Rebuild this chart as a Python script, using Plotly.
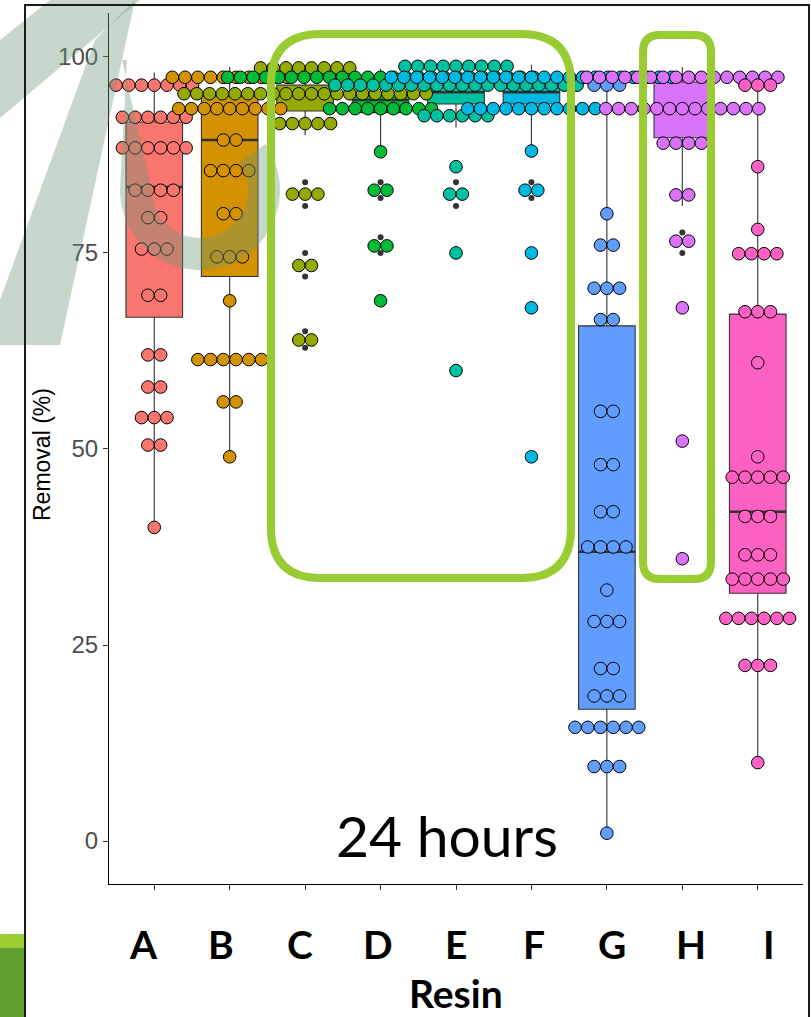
import numpy as np
import plotly.graph_objects as go

# ---------------- data ----------------
CATEGORIES = ["A", "B", "C", "D", "E", "F", "G", "H", "I"]
COLORS = ["#F8766D", "#D39200", "#93AA00", "#00BA38", "#00C19F",
          "#00B9E3", "#619CFF", "#DB72FB", "#FF61C3"]

# dot-plot bins (Removal %) and number of stacked dots in each bin
A_bins = [96.4, 92.3, 88.4, 83.0, 79.5, 75.5, 69.6, 62.0, 57.9, 54.0, 50.5, 40.0]
A_counts = [7, 6, 6, 4, 2, 3, 2, 2, 2, 3, 2, 1]
B_bins = [97.4, 93.4, 89.4, 85.5, 80.0, 74.5, 68.9, 61.4, 56.0, 49.0]
B_counts = [10, 9, 2, 4, 2, 3, 1, 6, 2, 1]
C_bins = [98.6, 95.3, 91.5, 82.5, 73.4, 63.9]
C_counts = [8, 20, 5, 3, 2, 2]
D_bins = [97.4, 93.4, 87.9, 83.0, 75.9, 68.9]
D_counts = [25, 9, 1, 2, 2, 1]
E_bins = [98.8, 96.4, 92.5, 86.0, 82.5, 75.0, 60.0]
E_counts = [9, 20, 6, 1, 2, 1, 1]
F_bins = [97.4, 93.4, 88.0, 83.0, 75.0, 68.0, 49.0]
F_counts = [23, 11, 1, 2, 1, 1, 1]
G_bins = [96.4, 80.0, 76.0, 70.5, 66.5, 54.8, 48.0, 42.0, 37.5, 32.0, 28.0, 22.0, 18.5, 14.5, 9.5, 1.0]
G_counts = [3, 1, 2, 3, 2, 2, 2, 2, 4, 1, 3, 2, 3, 6, 3, 1]
H_bins = [97.4, 93.4, 89.0, 82.4, 76.5, 68.0, 51.0, 36.0]
H_counts = [16, 13, 4, 2, 2, 1, 1, 1]
I_bins = [96.4, 86.0, 78.0, 74.9, 67.5, 61.0, 49.0, 46.4, 41.4, 36.5, 33.4, 28.4, 22.4, 10.0]
I_counts = [3, 1, 1, 4, 3, 1, 1, 5, 3, 3, 5, 6, 3, 1]

# box-plot statistics
Q1 = [66.8, 72.0, 93.1, 92.9, 94.0, 94.0, 16.8, 89.7, 31.6]
MEDIAN = [83.4, 89.4, 95.3, 94.5, 95.5, 95.5, 36.9, 93.4, 42.0]
Q3 = [91.7, 95.0, 96.4, 95.3, 96.3, 96.0, 65.7, 96.8, 67.2]
LOWER = [40.0, 49.0, 90.0, 88.0, 91.0, 88.0, 1.0, 81.0, 10.0]
UPPER = [98.0, 98.7, 98.6, 98.5, 98.8, 99.0, 97.4, 98.7, 97.0]

# box-plot outliers
OUTLIERS = {
    "C": [84.0, 81.0, 75.0, 72.0, 65.0, 62.9],
    "D": [84.0, 82.0, 77.0, 75.0],
    "E": [86.0, 84.0, 81.0, 75.0, 60.0],
    "F": [84.0, 82.0, 75.0, 68.0, 49.0],
    "H": [77.6, 75.0, 68.0, 51.0, 36.0],
}

Y_TICKS = [0, 25, 50, 75, 100]

BINS = [A_bins, B_bins, C_bins, D_bins, E_bins, F_bins, G_bins, H_bins, I_bins]
COUNTS = [A_counts, B_counts, C_counts, D_counts, E_counts, F_counts, G_counts, H_counts, I_counts]

# ---------------- layout constants ----------------
W, H = 811, 1017
ML, MR, MT, MB = 109, 8, 13, 133
PW, PH = W - ML - MR, H - MT - MB
DOT_STEP = 0.169      # horizontal stacking step of dots (category units)
BOX_WIDTH = 0.75


def pp(px, py):
    """pixel -> paper coordinates (for decorations)"""
    return (px - ML) / PW, (H - MB - py) / PH


fig = go.Figure()

# boxes
for i, c in enumerate(CATEGORIES):
    fig.add_trace(go.Box(
        x=[i + 1], q1=[Q1[i]], median=[MEDIAN[i]], q3=[Q3[i]],
        lowerfence=[LOWER[i]], upperfence=[UPPER[i]],
        width=BOX_WIDTH, whiskerwidth=0, boxpoints=False,
        fillcolor=COLORS[i], line=dict(color="#333333", width=1.1),
        showlegend=False, hoverinfo="skip"))

# thicker median lines
for i, c in enumerate(CATEGORIES):
    fig.add_trace(go.Scatter(
        x=[i + 1 - BOX_WIDTH / 2, i + 1 + BOX_WIDTH / 2], y=[MEDIAN[i], MEDIAN[i]],
        mode="lines", line=dict(color="#333333", width=2.4),
        showlegend=False, hoverinfo="skip"))

# outliers
for c, vals in OUTLIERS.items():
    i = CATEGORIES.index(c)
    fig.add_trace(go.Scatter(
        x=[i + 1] * len(vals), y=vals, mode="markers",
        marker=dict(color="#333333", size=6),
        showlegend=False, hoverinfo="skip"))

# dot plots (stacked centred on the category)
for i, c in enumerate(CATEGORIES):
    xs, ys = [], []
    for v, n in zip(BINS[i], COUNTS[i]):
        for k in range(n):
            xs.append(i + 1 + (k - (n - 1) / 2) * DOT_STEP)
            ys.append(v)
    fig.add_trace(go.Scatter(
        x=xs, y=ys, mode="markers", name=c,
        marker=dict(color=COLORS[i], size=12.6, line=dict(color="black", width=1)),
        showlegend=False))

shapes = []

# watermark (semi-transparent sage strokes)
WM = "rgba(110,150,120,0.38)"


def poly(points):
    pts = [pp(x, y) for x, y in points]
    return "M " + " L ".join(f"{a:.5f},{b:.5f}" for a, b in pts) + " Z"


shapes.append(dict(type="path", xref="paper", yref="paper", layer="above",
                   path=poly([(0, 40), (0, 118), (140, 0), (50, 0)]),
                   fillcolor=WM, line=dict(width=0)))
shapes.append(dict(type="path", xref="paper", yref="paper", layer="above",
                   path=poly([(95, 40), (135, 0), (60, 345), (0, 345), (0, 300)]),
                   fillcolor=WM, line=dict(width=0)))
# U shaped stroke
cx, cy, r1, r2 = 200, 190, 80, 48
outer = [(cx + r1 * np.cos(a), cy - r1 * np.sin(a)) for a in np.linspace(np.pi, 2 * np.pi + np.radians(35), 40)]
inner = [(cx + r2 * np.cos(a), cy - r2 * np.sin(a)) for a in np.linspace(2 * np.pi + np.radians(35), np.pi, 40)]
shapes.append(dict(type="path", xref="paper", yref="paper", layer="above",
                   path=poly([(95, 60), (127, 60)] + outer + inner + [(152, 190), (122, 60)]),
                   fillcolor=WM, line=dict(width=0)))


def rounded_rect(x0, y0, x1, y1, r):
    p = lambda x, y: "{:.5f},{:.5f}".format(*pp(x, y))
    return (f"M {p(x0 + r, y0)} L {p(x1 - r, y0)} Q {p(x1, y0)} {p(x1, y0 + r)} "
            f"L {p(x1, y1 - r)} Q {p(x1, y1)} {p(x1 - r, y1)} L {p(x0 + r, y1)} "
            f"Q {p(x0, y1)} {p(x0, y1 - r)} L {p(x0, y0 + r)} Q {p(x0, y0)} {p(x0 + r, y0)} Z")


GREEN = "#99CC33"
shapes.append(dict(type="path", xref="paper", yref="paper", layer="above",
                   path=rounded_rect(271, 34, 571, 578, 50),
                   line=dict(color=GREEN, width=8), fillcolor="rgba(0,0,0,0)"))
shapes.append(dict(type="path", xref="paper", yref="paper", layer="above",
                   path=rounded_rect(643, 35, 711, 579, 17),
                   line=dict(color=GREEN, width=8), fillcolor="rgba(0,0,0,0)"))

# slide decorations: green bar bottom-left and black frame
x0, y0 = pp(0, 934); x1, y1 = pp(24, 948)
shapes.append(dict(type="rect", xref="paper", yref="paper", layer="above",
                   x0=x0, y0=y0, x1=x1, y1=y1, fillcolor="#9ACD32", line=dict(width=0)))
x0, y0 = pp(0, 948); x1, y1 = pp(24, 1030)
shapes.append(dict(type="rect", xref="paper", yref="paper", layer="above",
                   x0=x0, y0=y0, x1=x1, y1=y1, fillcolor="#5F9E2F", line=dict(width=0)))
x0, y0 = pp(25, 5); x1, y1 = pp(809, 1030)
shapes.append(dict(type="rect", xref="paper", yref="paper", layer="above",
                   x0=x0, y0=y0, x1=x1, y1=y1, fillcolor="rgba(0,0,0,0)",
                   line=dict(color="#1a1a1a", width=2)))

annotations = []
LABEL_CENTER, LABEL_SPACING = 5.0, 1.037
lab_y = pp(0, 944)[1]
for i, c in enumerate(CATEGORIES):
    annotations.append(dict(x=LABEL_CENTER + (i - 4) * LABEL_SPACING, y=lab_y,
                            xref="x", yref="paper", text=c, showarrow=False,
                            font=dict(family="Lato", size=39, color="black", weight="bold"),
                            xanchor="center", yanchor="middle"))
annotations.append(dict(x=0.5, y=pp(0, 993)[1], xref="paper", yref="paper", text="Resin",
                        showarrow=False, xanchor="center", yanchor="middle",
                        font=dict(family="Lato", size=39, color="black", weight="bold")))
annotations.append(dict(x=pp(42, 0)[0], y=pp(0, 455)[1], xref="paper", yref="paper",
                        text="Removal (%)", textangle=-90, showarrow=False,
                        xanchor="center", yanchor="middle",
                        font=dict(family="Arial", size=23, color="black")))
annotations.append(dict(x=pp(447, 0)[0], y=pp(0, 835)[1], xref="paper", yref="paper",
                        text="24 hours", showarrow=False, xanchor="center", yanchor="middle",
                        font=dict(family="Lato", size=57, color="black")))

fig.update_layout(
    width=W, height=H, margin=dict(l=ML, r=MR, t=MT, b=MB),
    paper_bgcolor="white", plot_bgcolor="white", showlegend=False,
    boxmode="overlay", shapes=shapes, annotations=annotations,
    xaxis=dict(range=[0.4, 9.6], tickvals=list(range(1, 10)), showticklabels=False,
               ticks="outside", ticklen=5, tickcolor="#333333", showline=True,
               linecolor="black", linewidth=1.2, showgrid=False, zeroline=False),
    yaxis=dict(range=[-5.48, 105.6], tickvals=Y_TICKS, ticks="outside", ticklen=5,
               tickcolor="#333333", tickfont=dict(family="Arial", size=24, color="#4D4D4D"),
               showline=True, linecolor="black", linewidth=1.2, showgrid=False,
               zeroline=False),
)

fig.write_html("out.html", config={"displayModeBar": False},
               post_script="document.body.style.margin='0px';document.body.style.overflow='hidden';")
